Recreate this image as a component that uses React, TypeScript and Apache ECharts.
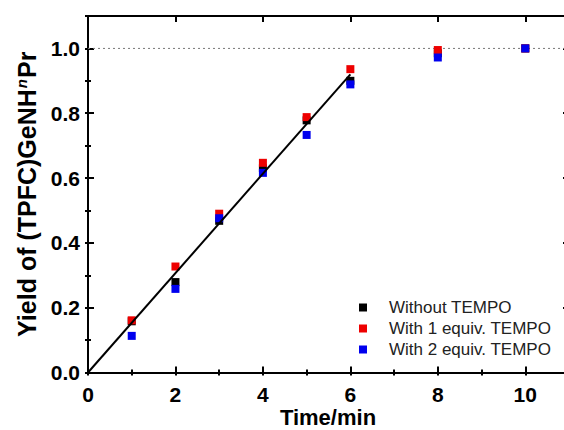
import React, { useEffect, useRef } from "react";
import * as echarts from "echarts";

const times = [1, 2, 3, 4, 5, 6, 8, 10];
const withoutTempo = [0.158, 0.279, 0.468, 0.63, 0.778, 0.9, 0.985, 1.0];
const with1Tempo = [0.161, 0.327, 0.49, 0.647, 0.788, 0.936, 0.995, 1.0];
const with2Tempo = [0.113, 0.258, 0.476, 0.616, 0.733, 0.889, 0.972, 1.0];
const fitLine: [number, number][] = [[0, 0], [6, 0.92]];
const seriesNames = ["Without TEMPO", "With 1 equiv. TEMPO", "With 2 equiv. TEMPO"];
const seriesColors = ["#000000", "#ee0000", "#0000ee"];
const xTitle = "Time/min";

const FONT = "Liberation Sans, Arial, sans-serif";

export default function App() {
  const ref = useRef<HTMLDivElement>(null);
  useEffect(() => {
    if (!ref.current) return;
    const chart = echarts.init(ref.current, undefined, { renderer: "svg" });
    const toPts = (ys: number[]) => times.map((t, i) => [t, ys[i]]);
    const axisLine = { show: true, onZero: false, lineStyle: { color: "#000", width: 2 } };
    const xBase = { type: "value", min: 0, max: 11, splitLine: { show: false }, axisLine };
    const yBase = { type: "value", min: 0, max: 1.1, splitLine: { show: false }, axisLine };
    const majorTick = { show: true, inside: true, length: 6, lineStyle: { color: "#000", width: 2 } };
    const minorTickStyle = { show: true, inside: true, length: 3, lineStyle: { color: "#000", width: 2 } };
    const noLabel = { show: false };
    chart.setOption({
      animation: false,
      textStyle: { fontFamily: FONT },
      grid: { left: 88, top: 16, right: -5, bottom: 57.5, outerBoundsMode: "none", containLabel: false },
      graphic: [
        {
          type: "text", x: 328, y: 417,
          style: {
            text: xTitle, fill: "#000", fontSize: 22, fontWeight: "bold", fontFamily: FONT,
            align: "center", verticalAlign: "middle",
          },
        },
      ],
      xAxis: [
        {
          ...xBase, position: "bottom", interval: 2, axisTick: majorTick,
          axisLabel: {
            margin: 11, color: "#000", fontSize: 21, fontWeight: "bold", fontFamily: FONT,
            formatter: (v: number) => (v % 2 === 0 && v <= 10 ? String(v) : ""),
          },
        },
        { ...xBase, position: "bottom", interval: 1, axisTick: minorTickStyle, axisLabel: noLabel, axisLine: { show: false } },
        { ...xBase, position: "top", interval: 2, axisTick: majorTick, axisLabel: noLabel },
        { ...xBase, position: "top", interval: 1, axisTick: minorTickStyle, axisLabel: noLabel, axisLine: { show: false } },
      ],
      yAxis: [
        {
          ...yBase, position: "left", interval: 0.2, axisTick: majorTick,
          axisLabel: {
            margin: 8, color: "#000", fontSize: 21, fontWeight: "bold", fontFamily: FONT,
            formatter: (v: number) => (v <= 1.0001 ? v.toFixed(1) : ""),
          },
          name: "{a|Yield of (TPFC)GeNH}{s|n}{a|Pr}", nameLocation: "middle", nameGap: 46, nameRotate: 90,
          nameTextStyle: {
            color: "#000", fontFamily: FONT,
            rich: {
              a: { fontSize: 25, fontWeight: "bold", fontFamily: FONT, color: "#000" },
              s: { fontSize: 15, fontWeight: "bold", fontStyle: "italic", fontFamily: FONT, color: "#000", padding: [0, 1, 12, 1] },
            },
          },
        },
        { ...yBase, position: "left", interval: 0.1, axisTick: minorTickStyle, axisLabel: noLabel, axisLine: { show: false } },
        { ...yBase, position: "right", interval: 0.2, axisTick: majorTick, axisLabel: noLabel },
        { ...yBase, position: "right", interval: 0.1, axisTick: minorTickStyle, axisLabel: noLabel, axisLine: { show: false } },
      ],
      legend: {
        orient: "vertical", left: 354, top: 294, itemWidth: 8, itemHeight: 8, itemGap: 4, icon: "rect",
        data: seriesNames,
        textStyle: { fontSize: 17, color: "#222", fontFamily: FONT, padding: [0, 0, 0, 17], lineHeight: 17 },
      },
      series: [
        {
          type: "line", name: "ref", data: [[0, 1], [11, 1]], symbol: "none", silent: true,
          lineStyle: { color: "#777", width: 1, type: [2, 3] }, z: 1,
        },
        {
          type: "line", name: "fit", data: fitLine, symbol: "none",
          lineStyle: { color: "#000", width: 2 }, z: 5,
        },
        ...[withoutTempo, with1Tempo, with2Tempo].map((ys, i) => ({
          type: "scatter", name: seriesNames[i], data: toPts(ys), symbol: "rect", symbolSize: 8,
          itemStyle: { color: seriesColors[i], opacity: 1 }, z: 3 + i * 0.1,
        })),
      ],
    });
    return () => chart.dispose();
  }, []);
  return <div ref={ref} style={{ width: 564, height: 430, position: "absolute", left: 0, top: 0 }} />;
}
